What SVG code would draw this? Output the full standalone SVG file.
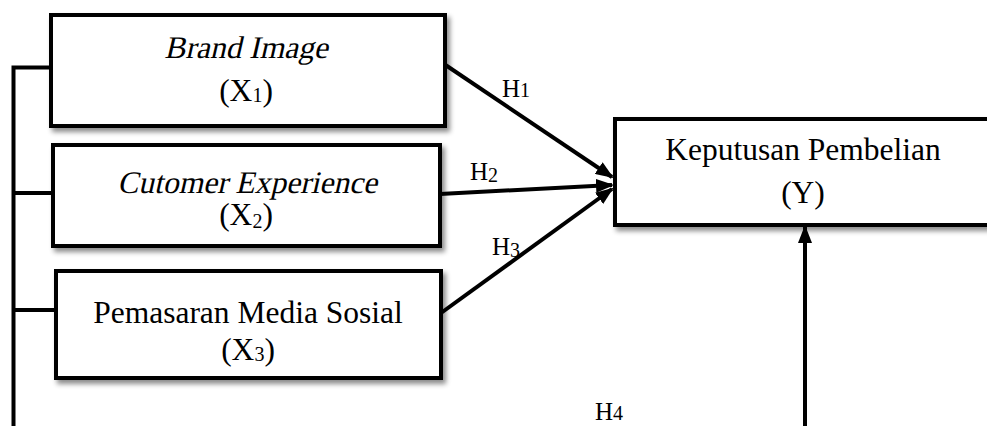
<svg xmlns="http://www.w3.org/2000/svg" width="987" height="426" viewBox="0 0 987 426">
<style>
.box{fill:#fff;stroke:#000;stroke-width:4;filter:url(#sh)}
.t{font-family:"Liberation Serif","Times New Roman",serif;font-size:31.5px;fill:#000;text-anchor:middle}
.i{font-style:normal}
.h{font-family:"Liberation Serif","Times New Roman",serif;font-size:25px;fill:#000}
.sub{font-size:20px}
.ln{stroke:#000;stroke-width:4;fill:none}
.ar{stroke:#000;stroke-width:4;fill:none;marker-end:url(#ah)}
</style>
<defs>
<filter id="sh" x="-5%" y="-10%" width="115%" height="130%">
<feDropShadow dx="3" dy="4" stdDeviation="2.5" flood-color="#000" flood-opacity="0.45"/>
</filter>
<marker id="ah" markerUnits="userSpaceOnUse" markerWidth="18" markerHeight="14" refX="16" refY="7" orient="auto">
<path d="M0,0 L18,7 L0,14 Z" fill="#000"/>
</marker>
</defs>
<rect width="987" height="426" fill="#fff"/>
<g id="x1">
<rect class="box" x="51" y="15" width="394" height="111"/>
<text class="t i" transform="skewX(-13)" x="259.4" y="58">Brand Image</text>
<text class="t" x="246" y="101">(X<tspan class="sub" dy="1">1</tspan><tspan dy="-1">)</tspan></text>
</g>
<g id="x2">
<rect class="box" x="53" y="145" width="387" height="101"/>
<text class="t i" transform="skewX(-13)" x="291.6" y="193">Cutomer Experience</text>
<text class="t" x="246" y="225">(X<tspan class="sub" dy="3">2</tspan><tspan dy="-3">)</tspan></text>
</g>
<g id="x3">
<rect class="box" x="56" y="271" width="385" height="107"/>
<text class="t" x="248" y="323">Pemasaran Media Sosial</text>
<text class="t" x="248" y="360">(X<tspan class="sub" dy="1">3</tspan><tspan dy="-1">)</tspan></text>
</g>
<g id="y">
<rect class="box" x="615" y="119" width="380" height="106"/>
<text class="t" x="803" y="160">Keputusan Pembelian</text>
<text class="t" x="803" y="203">(Y)</text>
</g>
<g id="connectors">
<path class="ln" d="M51,67.5 H13.5 V426"/>
<path class="ln" d="M13.5,193 H53"/>
<path class="ln" d="M13.5,310 H56"/>
<path class="ar" d="M444,64 L612,177"/>
<path class="ar" d="M440,194 L612,185"/>
<path class="ar" d="M441,313 L612,189"/>
<path class="ar" d="M805,426 V227"/>
<text class="h" x="502" y="97">H<tspan class="sub" font-size="16">1</tspan></text>
<text class="h" x="470" y="180">H<tspan class="sub" font-size="16" dy="2">2</tspan></text>
<text class="h" x="492" y="255">H<tspan class="sub" font-size="16" dy="2">3</tspan></text>
<text class="h" x="595" y="420">H<tspan class="sub" font-size="16">4</tspan></text>
</g>
</svg>
